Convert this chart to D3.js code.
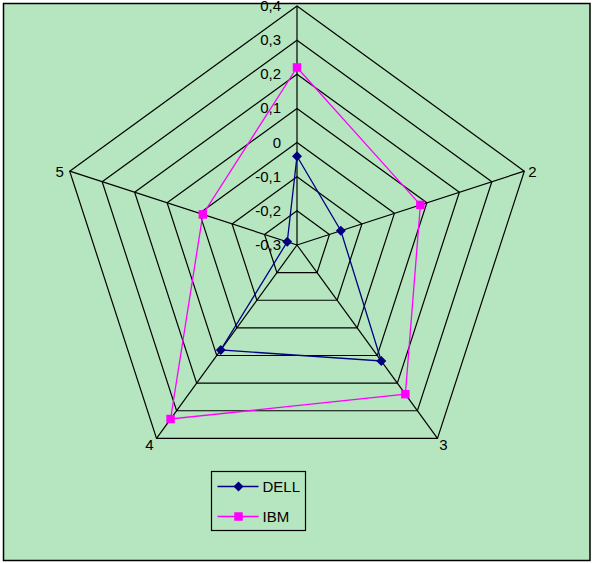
<!DOCTYPE html>
<html>
<head>
<meta charset="utf-8">
<script src="https://cdn.jsdelivr.net/npm/d3@7"></script>
<style>
  body { margin: 0; background: #fff; }
  svg { display: block; font-family: "Liberation Sans", Arial, sans-serif; }
</style>
</head>
<body>
<div id="chart"></div>
<script>
// radar chart, two series on five axes
const axes = ["1", "2", "3", "4", "5"];
const ticks = [-0.3, -0.2, -0.1, 0, 0.1, 0.2, 0.3, 0.4];
const tickLabels = ["-0,3", "-0,2", "-0,1", "0", "0,1", "0,2", "0,3", "0,4"];
const dell = [-0.04, -0.165, 0.12, 0.08, -0.27];
const ibm = [0.22, 0.08, 0.24, 0.33, -0.01];

const series = [
    { name: "DELL", values: dell, color: "#000080", rotate: 45 },
    { name: "IBM", values: ibm, color: "#ff00ff", rotate: 0 }
];

const width = 592, height = 563;
const cx = 297, cy = 245;

const r = d3.scaleLinear()
    .domain([-0.3, 0.4])
    .range([0, 239]);

const angle = d3.scalePoint()
    .domain(axes)
    .range([0, 2 * Math.PI * 4 / 5]);

const pt = (a, v) => [Math.sin(angle(a)) * r(v), -Math.cos(angle(a)) * r(v)];
const marker = d3.symbol().type(d3.symbolSquare);

const svg = d3.select("#chart").append("svg")
    .attr("width", width)
    .attr("height", height);

// chart area with border
svg.append("rect")
    .attr("x", 3.5).attr("y", 3.5)
    .attr("width", 586.5).attr("height", 557)
    .attr("fill", "#b6e6bf")
    .attr("stroke", "#000")
    .attr("stroke-width", 1.5);

const g = svg.append("g").attr("transform", `translate(${cx},${cy})`);

// rings
g.append("g")
    .selectAll("polygon")
    .data(ticks.slice(1))
    .join("polygon")
    .attr("points", t => axes.map(a => pt(a, t)).join(" "))
    .attr("fill", "none")
    .attr("stroke", "#000")
    .attr("stroke-width", 1.2);

// spokes
g.append("g")
    .selectAll("line")
    .data(axes)
    .join("line")
    .attr("x1", 0).attr("y1", 0)
    .attr("x2", a => pt(a, 0.4)[0])
    .attr("y2", a => pt(a, 0.4)[1])
    .attr("stroke", "#000")
    .attr("stroke-width", 1.2);

// axis category labels (axis 1 is covered by the tick text in the original)
const labelPos = { "2": [8, 6], "3": [6, 12], "4": [-7, 12], "5": [-10, 6] };
g.append("g")
    .selectAll("text")
    .data(axes.filter(a => labelPos[a]))
    .join("text")
    .attr("x", a => pt(a, 0.4)[0] + labelPos[a][0])
    .attr("y", a => pt(a, 0.4)[1] + labelPos[a][1])
    .attr("text-anchor", "middle")
    .attr("font-size", 15)
    .attr("fill", "#000")
    .text(a => a);

// series
for (const s of series) {
    const pts = s.values.map((v, i) => pt(axes[i], v));
    g.append("path")
        .attr("d", d3.line().curve(d3.curveLinearClosed)(pts))
        .attr("fill", "none")
        .attr("stroke", s.color)
        .attr("stroke-width", 1.3);
    g.append("g")
        .selectAll("path")
        .data(pts)
        .join("path")
        .attr("transform", d => `translate(${d[0]},${d[1]}) rotate(${s.rotate})`)
        .attr("d", marker.size(s.rotate ? 50 : 72)())
        .attr("fill", s.color);
}

// tick labels along the top spoke
g.append("g")
    .selectAll("text")
    .data(ticks)
    .join("text")
    .attr("x", -16)
    .attr("y", t => -r(t) + 5)
    .attr("text-anchor", "end")
    .attr("font-size", 15)
    .attr("fill", "#000")
    .text((t, i) => tickLabels[i]);

// legend
const legend = svg.append("g").attr("transform", "translate(211.5,471.5)");
legend.append("rect")
    .attr("width", 94).attr("height", 59)
    .attr("fill", "none")
    .attr("stroke", "#000")
    .attr("stroke-width", 1.2);

const item = legend.selectAll("g")
    .data(series)
    .join("g")
    .attr("transform", (d, i) => `translate(0,${15 + i * 30})`);

item.append("line")
    .attr("x1", 6).attr("x2", 47)
    .attr("stroke", d => d.color)
    .attr("stroke-width", 1.3);

item.append("path")
    .attr("transform", d => `translate(27,0) rotate(${d.rotate})`)
    .attr("d", d => marker.size(d.rotate ? 50 : 72)())
    .attr("fill", d => d.color);

item.append("text")
    .attr("x", 51)
    .attr("y", 5.5)
    .attr("font-size", 15)
    .attr("fill", "#000")
    .text(d => d.name);
</script>
</body>
</html>
